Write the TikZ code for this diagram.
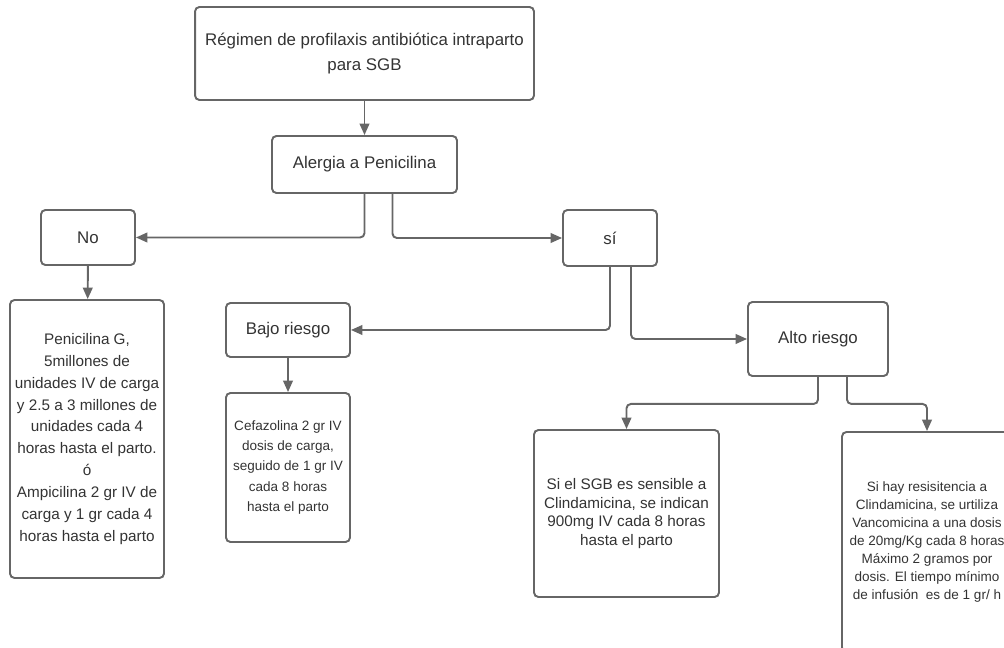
\documentclass[tikz,border=0pt]{standalone}
\usepackage{fontspec}
\setmainfont{Liberation Sans}
\usetikzlibrary{arrows.meta}
\definecolor{borde}{HTML}{666666}
\definecolor{texto}{HTML}{333333}
\begin{document}
\begin{tikzpicture}[x=0.02cm, y=-0.02cm,
		caja/.style={draw=borde, line width=1.1pt, rounded corners=2.5pt, align=center, text=texto, inner sep=0pt},
		grande/.style={font=\fontsize{9.6}{14.2}\selectfont},
		mediana/.style={font=\fontsize{8.7}{12.5}\selectfont},
		chica/.style={font=\fontsize{7.7}{11.4}\selectfont},
		flecha/.style={draw=borde, line width=1.1pt, rounded corners=2.5pt, -{Triangle[length=6.5pt, width=5.5pt]}}]
		\useasboundingbox (0,0) rectangle (1004,648);
		\clip (0,0) rectangle (1004,648);
		\node [caja, grande, minimum width=6.78cm, minimum height=1.86cm] (regimen) at (364.5, 53.5) {Régimen de profilaxis antibiótica intraparto\\para SGB};
		\node [caja, grande, minimum width=3.7cm, minimum height=1.14cm] (alergia) at (364.5, 164.5) {Alergia a Penicilina};
		\node [caja, grande, minimum width=1.88cm, minimum height=1.1cm] (no) at (88, 237.5) {No};
		\node [caja, grande, minimum width=1.88cm, minimum height=1.12cm] (si) at (610, 238) {sí};
		\node [caja, mediana, minimum width=3.08cm, minimum height=5.56cm] (penicilina) at (87, 439) {Penicilina G,\\5millones de\\unidades IV de carga\\y 2.5 a 3 millones de\\unidades cada 4\\horas hasta el parto.\\ó\\Ampicilina 2 gr IV de\\carga y 1 gr cada 4\\horas hasta el parto};
		\node [caja, grande, minimum width=2.48cm, minimum height=1.08cm] (bajo) at (288, 330) {Bajo riesgo};
		\node [caja, chica, minimum width=2.48cm, minimum height=2.98cm] (cefazolina) at (288, 467.5) {Cefazolina 2 gr IV\\dosis de carga,\\seguido de 1 gr IV\\cada 8 horas\\hasta el parto};
		\node [caja, grande, minimum width=2.8cm, minimum height=1.48cm] (alto) at (818, 339) {Alto riesgo};
		\node [caja, font=\fontsize{8.7}{10.6}\selectfont, minimum width=3.7cm, minimum height=3.34cm] (clindamicina) at (626.5, 513.5) {Si el SGB es sensible a\\Clindamicina, se indican\\900mg IV cada 8 horas\\hasta el parto};
		\node [caja, font=\fontsize{7.7}{10.2}\selectfont, minimum width=3.4cm, minimum height=4.4cm] (vancomicina) at (927, 542) {Si hay resisitencia a\\Clindamicina, se urtiliza\\Vancomicina a una dosis\\de 20mg/Kg cada 8 horas\\Máximo 2 gramos por\\dosis. El tiempo mínimo\\de infusión\ \ es de 1 gr/ h};
		\draw [flecha] (regimen) -- (alergia);
		\draw [flecha] (alergia.south) |- (no.east);
		\draw [flecha] ([xshift=0.56cm]alergia.south) |- (si.west);
		\draw [flecha] (no) -- (penicilina);
		\draw [flecha] (si.south) |- (bajo.east);
		\draw [flecha] ([xshift=0.42cm]si.south) |- (alto.west);
		\draw [flecha] (bajo) -- (cefazolina);
		\draw [flecha] (alto.south) -- ++(0, 27) -| (clindamicina.north);
		\draw [flecha] ([xshift=0.58cm]alto.south) -- ++(0, 27) -| (vancomicina.north);
	\end{tikzpicture}
\end{document}
